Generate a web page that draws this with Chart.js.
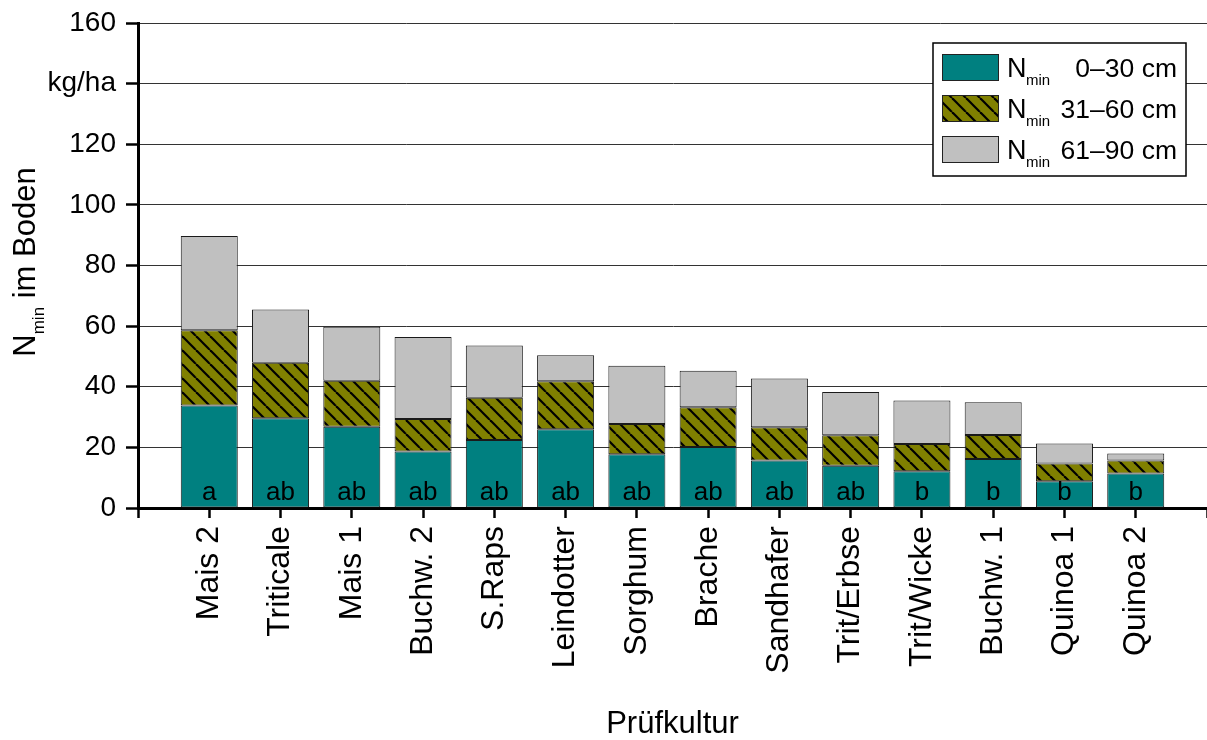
<!DOCTYPE html>
<html>
<head>
<meta charset="utf-8">
<script src="https://cdn.jsdelivr.net/npm/chart.js"></script>
<style>
html, body { margin: 0; padding: 0; background: #fff; }
</style>
</head>
<body>
<canvas id="grafico" width="1207" height="740"></canvas>
<script>
// Werte (kg/ha)
var kulturen = ["Mais 2", "Triticale", "Mais 1", "Buchw. 2", "S.Raps", "Leindotter", "Sorghum", "Brache", "Sandhafer", "Trit/Erbse", "Trit/Wicke", "Buchw. 1", "Quinoa 1", "Quinoa 2"];
var nmin0_30  = [33.8, 29.6, 26.8, 18.6, 22.4, 26.0, 17.7, 20.1, 15.7, 13.9, 12.1, 16.2, 8.8, 11.4];
var nmin31_60 = [24.8, 18.3, 15.2, 10.8, 14.0, 15.8, 10.0, 13.1, 10.9, 10.1, 9.0, 7.9, 5.9, 4.3];
var nmin61_90 = [31.1, 17.6, 17.8, 27.0, 17.2, 8.6, 19.2, 12.1, 16.1, 14.3, 14.4, 10.8, 6.6, 2.3];
var buchstaben = ["a", "ab", "ab", "ab", "ab", "ab", "ab", "ab", "ab", "ab", "b", "b", "b", "b"];
var schichten = ["0\u201330 cm", "31\u201360 cm", "61\u201390 cm"];
var yLabels = ["0", "20", "40", "60", "80", "100", "120", "kg/ha", "160"];

var schrift = "'Liberation Sans', Arial, sans-serif";
Chart.defaults.font.family = schrift;
Chart.defaults.color = "#000";

function schraffur() {
    var c = document.createElement("canvas");
    c.width = 14; c.height = 14;
    var cx = c.getContext("2d");
    cx.fillStyle = "#808000";
    cx.fillRect(0, 0, 14, 14);
    cx.strokeStyle = "#000";
    cx.lineWidth = 2.2;
    for (var k = -1; k <= 1; k++) {
        cx.beginPath();
        cx.moveTo(k * 14, 0);
        cx.lineTo(k * 14 + 14, 14);
        cx.stroke();
    }
    return cx.createPattern(c, "repeat");
}

// leere Kategorie vorne und hinten wie im Original
var labels = [""].concat(kulturen, [""]);
function pad(arr) { return [null].concat(arr, [null]); }

var extras = {
    id: "extras",
    afterDraw: function (chart) {
        var ctx = chart.ctx, area = chart.chartArea;

        // Buchstaben in den Balken
        var meta = chart.getDatasetMeta(0);
        ctx.save();
        ctx.font = "26px " + schrift;
        ctx.fillStyle = "#000";
        ctx.textAlign = "center";
        ctx.textBaseline = "alphabetic";
        for (var i = 1; i <= kulturen.length; i++) {
            ctx.fillText(buchstaben[i - 1], meta.data[i].x, area.bottom - 8);
        }
        ctx.restore();

        // y-Achsentitel mit Index
        ctx.save();
        ctx.translate(24, 262);
        ctx.rotate(-Math.PI / 2);
        ctx.fillStyle = "#000";
        ctx.textAlign = "left";
        ctx.textBaseline = "alphabetic";
        ctx.font = "31px " + schrift;
        var wN = ctx.measureText("N").width;
        var wRest = ctx.measureText(" im Boden").width;
        ctx.font = "17px " + schrift;
        var wMin = ctx.measureText("min").width;
        var x0 = -(wN + wMin + wRest) / 2;
        ctx.font = "31px " + schrift;
        ctx.fillText("N", x0, 11);
        ctx.fillText(" im Boden", x0 + wN + wMin, 11);
        ctx.font = "17px " + schrift;
        ctx.fillText("min", x0 + wN, 20);
        ctx.restore();

        // Legende
        var bx = 933, by = 43, bw = 253, bh = 133;
        ctx.save();
        ctx.fillStyle = "#fff";
        ctx.fillRect(bx, by, bw, bh);
        ctx.strokeStyle = "#000";
        ctx.lineWidth = 1.5;
        ctx.strokeRect(bx, by, bw, bh);
        for (var j = 0; j < schichten.length; j++) {
            var ry = 54 + j * 41;
            ctx.fillStyle = chart.data.datasets[j].backgroundColor;
            ctx.fillRect(942, ry, 56, 26);
            ctx.lineWidth = 1;
            ctx.strokeStyle = "#222";
            ctx.strokeRect(942.5, ry + 0.5, 56, 26);
            ctx.fillStyle = "#000";
            ctx.textBaseline = "alphabetic";
            ctx.textAlign = "left";
            ctx.font = "27px " + schrift;
            ctx.fillText("N", 1007, ry + 23);
            ctx.font = "15px " + schrift;
            ctx.fillText("min", 1026, ry + 31);
            ctx.font = "26.5px " + schrift;
            ctx.textAlign = "right";
            ctx.fillText(chart.data.datasets[j].label, 1177, ry + 23);
        }
        ctx.restore();
    }
};

var ctx = document.getElementById("grafico").getContext("2d");
var grafico = new Chart(ctx, {
    type: "bar",
    data: {
        labels: labels,
        datasets: [
            { label: schichten[0], data: pad(nmin0_30), backgroundColor: "#008080", borderColor: "#1a1a1a", borderWidth: 1, borderSkipped: false },
            { label: schichten[1], data: pad(nmin31_60), backgroundColor: schraffur(), borderColor: "#1a1a1a", borderWidth: 1, borderSkipped: false },
            { label: schichten[2], data: pad(nmin61_90), backgroundColor: "#C0C0C0", borderColor: "#1a1a1a", borderWidth: 1, borderSkipped: false }
        ]
    },
    options: {
        responsive: false,
        animation: false,
        barPercentage: 0.8,
        categoryPercentage: 1,
        layout: { padding: { top: 23, right: 0, left: 0, bottom: 0 } },
        plugins: { legend: { display: false }, tooltip: { enabled: false } },
        scales: {
            x: {
                stacked: true,
                offset: false,
                grid: { offset: false, drawOnChartArea: false, drawTicks: true, tickLength: 10, tickWidth: 2.5, tickColor: "#000" },
                border: { color: "#000", width: 3 },
                ticks: { autoSkip: false, maxRotation: 90, minRotation: 90, padding: 8, font: { size: 32 }, color: "#000" },
                title: { display: true, text: "Pr\u00fcfkultur", font: { size: 31, lineHeight: 1 }, color: "#000", padding: 0 },
                afterFit: function (s) { s.height = 232; s.paddingLeft = 0; s.paddingRight = 0; }
            },
            y: {
                stacked: true,
                min: 0,
                max: 160,
                ticks: {
                    stepSize: 20, padding: 10, font: { size: 28 }, color: "#000",
                    callback: function (v, i) { return yLabels[i]; }
                },
                grid: { color: "#333", lineWidth: 1, tickLength: 12, tickWidth: 2.5, tickColor: "#000" },
                border: { color: "#000", width: 3 },
                afterFit: function (s) { s.width = 138; s.paddingTop = 0; s.paddingBottom = 0; }
            }
        }
    },
    plugins: [extras]
});
</script>
</body>
</html>
